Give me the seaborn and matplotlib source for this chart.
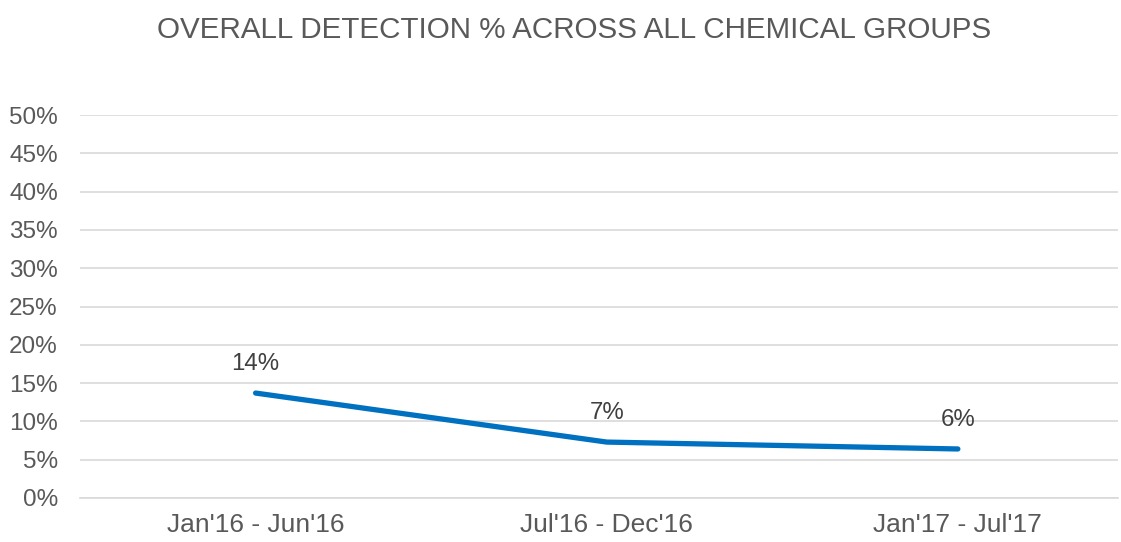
import pandas as pd
import matplotlib
matplotlib.use('Agg')
import matplotlib.pyplot as plt
import seaborn as sns

# data
periods = ["Jan'16 - Jun'16", "Jul'16 - Dec'16", "Jan'17 - Jul'17"]
detection = [13.7, 7.3, 6.4]
labels = ['14%', '7%', '6%']

df = pd.DataFrame({'period': periods, 'detection': detection})

sns.set_theme(style='white')
plt.rcParams['font.family'] = ['Liberation Sans', 'DejaVu Sans']
grey = '#595959'

fig = plt.figure(figsize=(11.21, 5.42), dpi=100)
ax = fig.add_axes([0.0714, 0.0812, 0.9256, 0.7066])

sns.lineplot(data=df, x='period', y='detection', color='#0070C0',
             linewidth=3.8, sort=False, ax=ax)

for i, (v, t) in enumerate(zip(detection, labels)):
    ax.annotate(t, (i, v), xytext=(0, 21), textcoords='offset points',
                ha='center', va='center', fontsize=17.3, color='#404040')

ax.set_xlim(-0.5, 2.455)
ax.set_ylim(0, 50)
ax.set_yticks(range(0, 51, 5))
ax.set_yticklabels([f'{v}%' for v in range(0, 51, 5)])
ax.yaxis.grid(True, color='#D9D9D9', linewidth=1.2)
ax.set_axisbelow(True)
for s in ['top', 'right', 'left']:
    ax.spines[s].set_visible(False)
ax.spines['bottom'].set_color('#D9D9D9')
ax.spines['bottom'].set_linewidth(1.2)
ax.tick_params(axis='y', labelsize=17.5, colors=grey, length=0, pad=16)
ax.tick_params(axis='x', labelsize=19, colors=grey, length=0, pad=11)
ax.set_xlabel('')
ax.set_ylabel('')

fig.suptitle('OVERALL DETECTION % ACROSS ALL CHEMICAL GROUPS', fontsize=21.3,
             color=grey, x=0.512, y=0.97)

fig.savefig('out.png', dpi=100)
